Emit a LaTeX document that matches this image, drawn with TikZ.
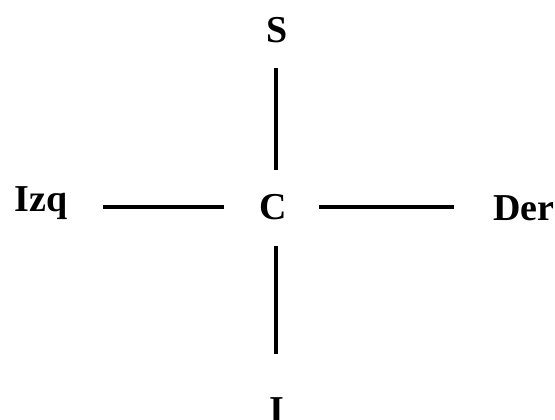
\documentclass[tikz,border=0pt]{standalone}
\usepackage{fontspec}
\setmainfont{Liberation Serif}
\usetikzlibrary{positioning}

\begin{document}
\begin{tikzpicture}[
    x=0.5pt, y=-0.5pt,
    font=\fontsize{19}{22}\selectfont\bfseries,
    lbl/.style={inner sep=0pt, anchor=base},
    bar/.style={line width=2pt, line cap=butt}
]
\useasboundingbox (0,0) rectangle (555,419);

\node[lbl] (C) at (273,219) {C};
\node[lbl] (S) at (277,42) {S};
\node[lbl] (I) at (277,422) {I};
\node[lbl, anchor=base west] (Izq) at (14,211) {Izq};
\node[lbl, anchor=base west] (Der) at (493,220) {Der};

\draw[bar, shorten <=17.5pt, shorten >=17.5pt] (C.west |- 0,207) -- (Izq.east |- 0,207);
\draw[bar, shorten <=16pt, shorten >=19.5pt] (C.east |- 0,207) -- (Der.west |- 0,207);
\draw[bar, shorten <=11.5pt, shorten >=12.5pt] (C.north -| 276,0) -- (S.south -| 276,0);
\draw[bar, shorten <=13pt, shorten >=21.5pt] (C.south -| 276,0) -- (I.north -| 276,0);
\end{tikzpicture}
\end{document}
